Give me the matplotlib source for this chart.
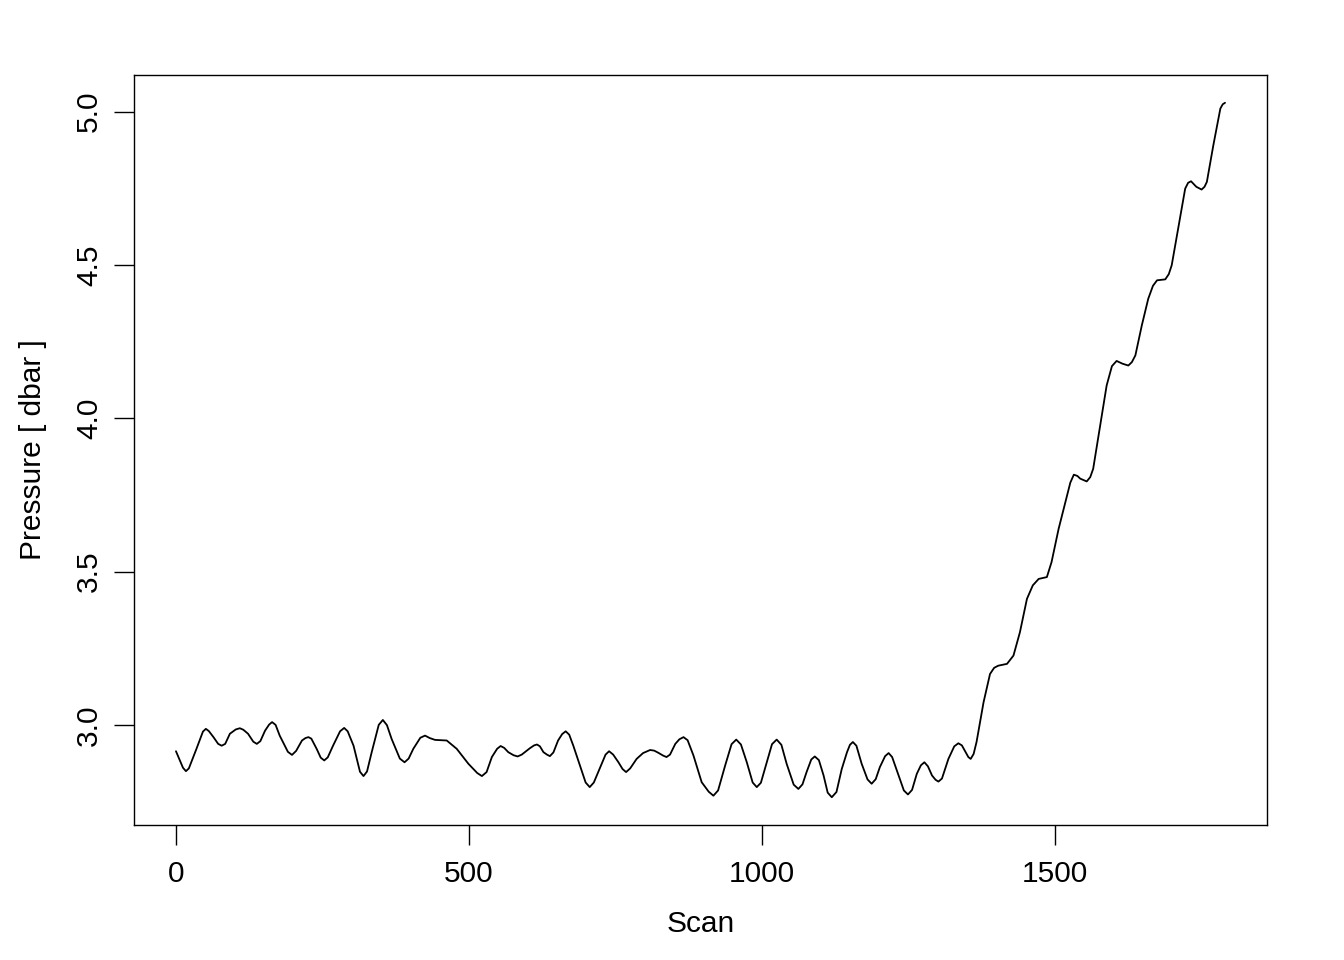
import matplotlib
matplotlib.use("Agg")
import matplotlib.pyplot as plt

scan = [0, 12, 17, 22, 35, 46, 51, 56, 64, 72, 78, 84, 92, 102, 109, 115, 123,
        132, 138, 144, 152, 159, 164, 170, 177, 191, 198, 205, 215, 221, 226,
        231, 240, 247, 253, 259, 268, 280, 287, 293, 303, 314, 320, 326, 334,
        346, 353, 360, 368, 382, 390, 397, 405, 417, 425, 433, 442, 462, 479,
        499, 514, 522, 530, 539, 548, 554, 560, 567, 576, 583, 590, 604, 611,
        616, 621, 627, 633, 638, 644, 652, 659, 665, 671, 678, 689, 699, 706,
        713, 724, 733, 739, 746, 755, 762, 768, 775, 786, 797, 809, 816, 823,
        831, 837, 843, 852, 859, 866, 873, 883, 897, 909, 917, 925, 937, 948,
        956, 964, 974, 984, 991, 998, 1008, 1017, 1025, 1033, 1042, 1054, 1062,
        1069, 1076, 1084, 1090, 1097, 1105, 1112, 1119, 1127, 1136, 1145, 1150,
        1155, 1161, 1170, 1180, 1187, 1194, 1201, 1210, 1216, 1222, 1233, 1242,
        1249, 1256, 1264, 1271, 1277, 1283, 1290, 1296, 1301, 1307, 1318, 1328,
        1335, 1341, 1346, 1352, 1356, 1361, 1366, 1378, 1389, 1396, 1403, 1418,
        1429, 1440, 1452, 1462, 1472, 1486, 1494, 1506, 1519, 1526, 1532, 1538,
        1543, 1554, 1560, 1565, 1577, 1588, 1597, 1605, 1615, 1625, 1631, 1637,
        1648, 1659, 1667, 1674, 1688, 1694, 1699, 1710, 1722, 1727, 1732, 1741,
        1750, 1755, 1759, 1770, 1782, 1786, 1790]
pressure = [2.914, 2.860, 2.849, 2.858, 2.922, 2.978, 2.987, 2.980, 2.960, 2.938,
            2.932, 2.938, 2.971, 2.985, 2.989, 2.984, 2.971, 2.945, 2.938, 2.947,
            2.981, 3.001, 3.009, 3.000, 2.965, 2.912, 2.902, 2.915, 2.949, 2.957,
            2.960, 2.955, 2.922, 2.893, 2.884, 2.894, 2.932, 2.979, 2.990, 2.979,
            2.932, 2.847, 2.833, 2.848, 2.911, 3.000, 3.016, 2.999, 2.954, 2.890,
            2.878, 2.890, 2.922, 2.958, 2.965, 2.957, 2.951, 2.949, 2.922, 2.873,
            2.843, 2.833, 2.846, 2.895, 2.922, 2.931, 2.925, 2.911, 2.901, 2.897,
            2.903, 2.924, 2.933, 2.936, 2.930, 2.911, 2.903, 2.898, 2.910, 2.949,
            2.970, 2.979, 2.968, 2.932, 2.869, 2.812, 2.797, 2.812, 2.862, 2.903,
            2.914, 2.903, 2.878, 2.856, 2.846, 2.858, 2.889, 2.908, 2.918, 2.916,
            2.909, 2.900, 2.895, 2.903, 2.938, 2.953, 2.960, 2.950, 2.900, 2.813,
            2.782, 2.769, 2.786, 2.867, 2.937, 2.952, 2.936, 2.878, 2.812, 2.797,
            2.811, 2.878, 2.937, 2.952, 2.935, 2.873, 2.805, 2.791, 2.806, 2.846,
            2.887, 2.897, 2.885, 2.835, 2.779, 2.764, 2.781, 2.856, 2.911, 2.935,
            2.944, 2.932, 2.873, 2.822, 2.808, 2.823, 2.862, 2.898, 2.908, 2.895,
            2.835, 2.786, 2.773, 2.788, 2.840, 2.868, 2.878, 2.865, 2.835, 2.821,
            2.815, 2.825, 2.889, 2.930, 2.940, 2.933, 2.916, 2.895, 2.889, 2.905,
            2.944, 3.074, 3.166, 3.186, 3.193, 3.199, 3.226, 3.302, 3.411, 3.455,
            3.476, 3.482, 3.531, 3.639, 3.737, 3.790, 3.816, 3.812, 3.803, 3.794,
            3.808, 3.835, 3.977, 4.107, 4.170, 4.187, 4.178, 4.172, 4.183, 4.205,
            4.303, 4.390, 4.432, 4.450, 4.453, 4.470, 4.499, 4.618, 4.749, 4.768,
            4.773, 4.755, 4.746, 4.755, 4.771, 4.890, 5.010, 5.024, 5.029]

xticks = [0, 500, 1000, 1500]
yticks = [3.0, 3.5, 4.0, 4.5, 5.0]
ytick_labels = ["3.0", "3.5", "4.0", "4.5", "5.0"]

plt.rcParams['font.family'] = ['Liberation Sans', 'DejaVu Sans']

fig = plt.figure(figsize=(13.44, 9.6), dpi=100)
ax = fig.add_axes([134/1344, 135/960, (1267-134)/1344, (825-75)/960])

ax.plot(scan, pressure, color='black', lw=1.3, solid_joinstyle='round',
        solid_capstyle='round')

xmin, xmax = min(scan), max(scan)
ymin, ymax = min(pressure), max(pressure)
dx = (xmax - xmin) * 0.04
dy = (ymax - ymin) * 0.04
ax.set_xlim(xmin - dx, xmax + dx)
ax.set_ylim(ymin - dy, ymax + dy)

ax.set_xticks(xticks)
ax.set_xticklabels([str(v) for v in xticks])
ax.set_yticks(yticks)
ax.set_yticklabels(ytick_labels, rotation=90, va='center')

ax.tick_params(axis='both', direction='out', length=14.4, width=1.0,
               labelsize=21.5, color='black')
ax.tick_params(axis='x', pad=11)
ax.tick_params(axis='y', pad=8)
for s in ax.spines.values():
    s.set_linewidth(1.0)
    s.set_color('black')

ax.set_xlabel('Scan', fontsize=21.5, labelpad=16)
ax.set_ylabel('Pressure [ dbar ]', fontsize=21.5, labelpad=20)

fig.savefig('out.png', dpi=100, facecolor='white')
